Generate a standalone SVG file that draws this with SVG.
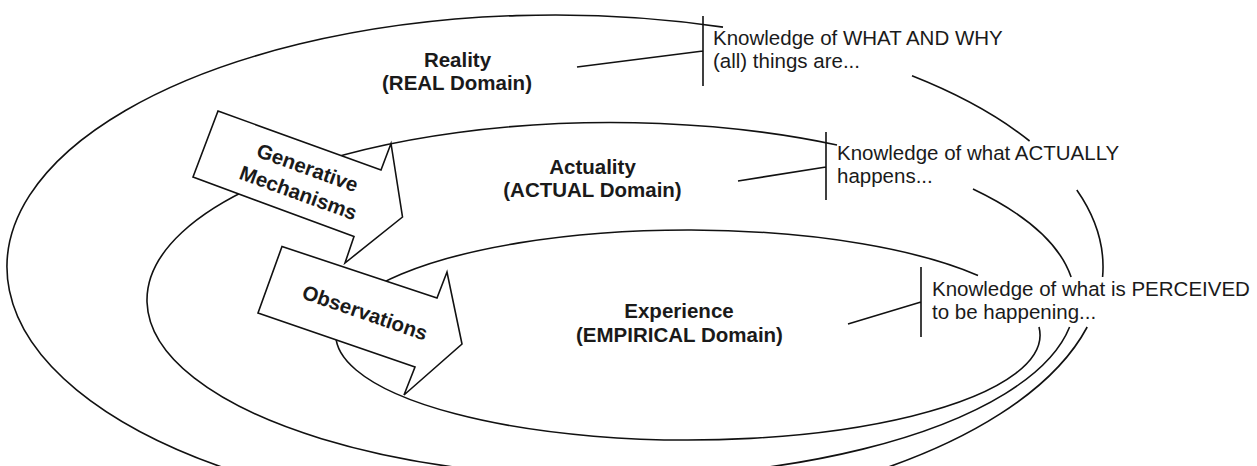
<svg xmlns="http://www.w3.org/2000/svg" width="1257" height="466" viewBox="0 0 1257 466">
<style>
.ln{fill:none;stroke:#111;stroke-width:1.6}
.arr{fill:#fff;stroke:#111;stroke-width:1.6;stroke-linejoin:miter}
.t{font-family:"Liberation Sans",Arial,sans-serif;font-size:20.5px;fill:#1a1a1a}
.b{font-family:"Liberation Sans",Arial,sans-serif;font-size:20.5px;font-weight:bold;fill:#1a1a1a;text-anchor:middle}
</style>
<rect width="1257" height="466" fill="#fff"/>
<g id="connectors">
<!-- outer (Reality) spiral-like ellipse -->
<path class="ln" d="M723,27.1 A548,252 0 1 0 1087.2,327"/>
<path class="ln" d="M912,75.8 A548,252 0 0 1 1029.6,141"/>
<path class="ln" d="M1076.8,190 A548,252 0 0 1 1102.6,277"/>
<!-- middle (Actuality) -->
<path class="ln" d="M1069.6,327 A464,177.5 0 1 1 837,145"/>
<path class="ln" d="M973,189 A464,177.5 0 0 1 1071.1,277"/>
<!-- inner (Experience) -->
<path class="ln" d="M1039,327 A352,105 0 1 1 978,275.5"/>
<!-- brackets and pointers -->
<path class="ln" d="M703,16 V86 M577,67 L703,51"/>
<path class="ln" d="M826,132 V200 M738,181 L826,167"/>
<path class="ln" d="M921,267 V337 M848,324 L921,302"/>
</g>
<g id="reality">
<text class="b" x="457.5" y="67">Reality</text>
<text class="b" x="457" y="90">(REAL Domain)</text>
</g>
<g id="actuality">
<text class="b" x="592.5" y="174">Actuality</text>
<text class="b" x="592.5" y="197">(ACTUAL Domain)</text>
</g>
<g id="experience">
<text class="b" x="679" y="317.5">Experience</text>
<text class="b" x="679.5" y="341.5">(EMPIRICAL Domain)</text>
</g>
<g id="note-real">
<text class="t" x="713" y="45">Knowledge of WHAT AND WHY</text>
<text class="t" x="713" y="68">(all) things are...</text>
</g>
<g id="note-actual">
<text class="t" x="837" y="160">Knowledge of what ACTUALLY</text>
<text class="t" x="837" y="183">happens...</text>
</g>
<g id="note-empirical">
<text class="t" x="932" y="296">Knowledge of what is PERCEIVED</text>
<text class="t" x="932" y="319">to be happening...</text>
</g>
<g id="observations">
<polygon class="arr" points="282,246.5 437,298 447,272 462,344 404,395 415,367 258,313"/>
<g transform="translate(365,312.5) rotate(19)">
<text class="b" x="0" y="7.3">Observations</text>
</g>
</g>
<g id="generative-mechanisms">
<polygon class="arr" points="218,111 381,170 391,143.5 402.5,217 345,263 354,236.5 193,177"/>
<g transform="translate(303,180) rotate(20)">
<text class="b" x="0" y="-6">Generative</text>
<text class="b" x="0" y="20.7">Mechanisms</text>
</g>
</g>
</svg>
